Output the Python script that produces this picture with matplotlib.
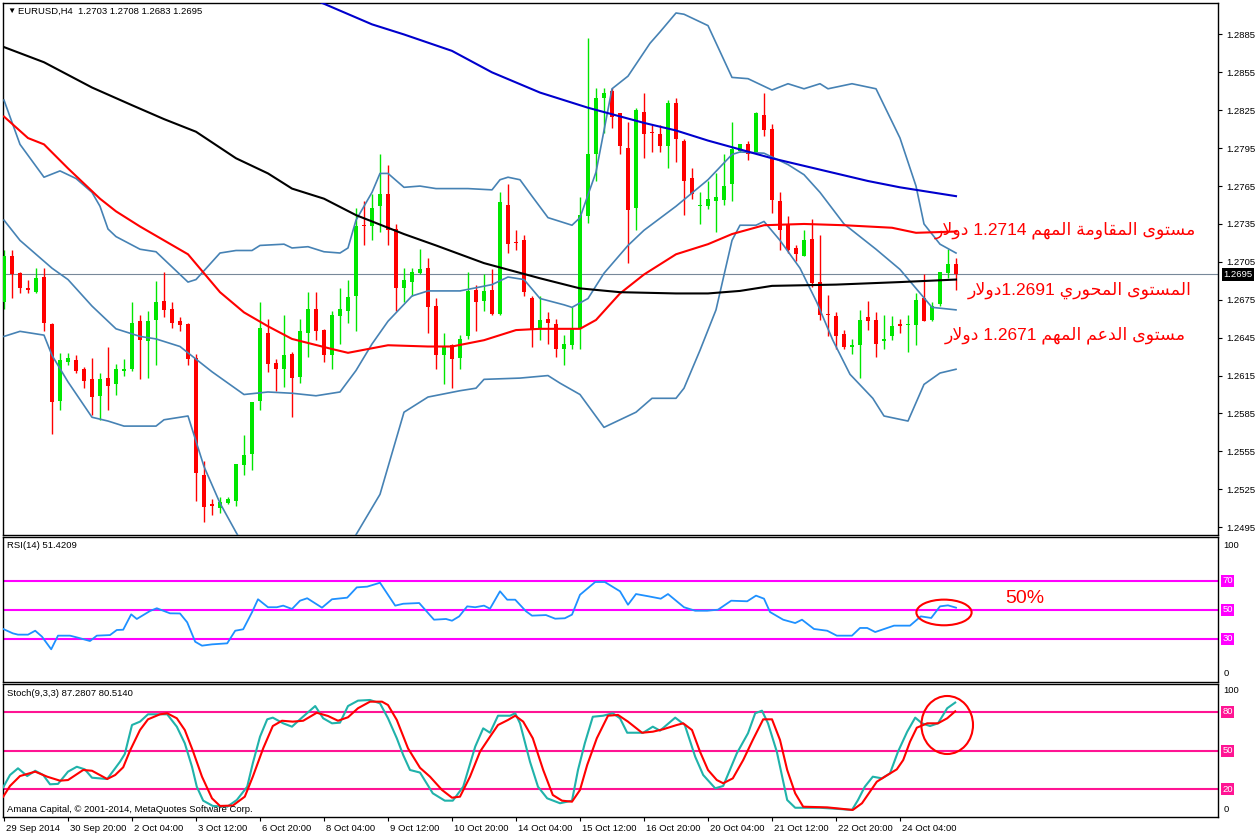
import re
import numpy as np
import matplotlib
matplotlib.use('Agg')
import matplotlib.pyplot as plt
import matplotlib.transforms as mtransforms
from matplotlib.patches import Ellipse

plt.rcParams['font.family'] = ['Liberation Sans', 'DejaVu Sans']

# ---- EURUSD H4 candles (bar 0 .. 119) ----
opens = [1.2673, 1.2710, 1.2696, 1.2684, 1.2681, 1.2693, 1.2656, 1.2595, 1.2626, 1.2627,
         1.2620, 1.2612, 1.2599, 1.2613, 1.2608, 1.2619, 1.2620, 1.2658, 1.2642, 1.2659,
         1.2674, 1.2668, 1.2658, 1.2656, 1.2629, 1.2536, 1.2513, 1.2510, 1.2514, 1.2516,
         1.2544, 1.2553, 1.2595, 1.2649, 1.2625, 1.2620, 1.2632, 1.2614, 1.2649, 1.2668,
         1.2651, 1.2631, 1.2662, 1.2666, 1.2678, 1.2734, 1.2733, 1.2749, 1.2759, 1.2731,
         1.2684, 1.2689, 1.2696, 1.2700, 1.2670, 1.2631, 1.2639, 1.2629, 1.2646, 1.2683,
         1.2674, 1.2683, 1.2664, 1.2750, 1.2721, 1.2722, 1.2676, 1.2652, 1.2660, 1.2656,
         1.2636, 1.2639, 1.2653, 1.2741, 1.2790, 1.2835, 1.2840, 1.2823, 1.2795, 1.2748,
         1.2824, 1.2808, 1.2806, 1.2797, 1.2831, 1.2801, 1.2771, 1.2749, 1.2749, 1.2753,
         1.2754, 1.2767, 1.2793, 1.2798, 1.2792, 1.2821, 1.2810, 1.2753, 1.2734, 1.2716,
         1.2710, 1.2723, 1.2689, 1.2664, 1.2662, 1.2648, 1.2638, 1.2639, 1.2661, 1.2659,
         1.2642, 1.2646, 1.2656, 1.2655, 1.2655, 1.2676, 1.2659, 1.2672, 1.2696, 1.2703]
highs = [1.2714, 1.2714, 1.2697, 1.2691, 1.2700, 1.2700, 1.2657, 1.2633, 1.2633, 1.2631,
         1.2622, 1.2629, 1.2617, 1.2638, 1.2624, 1.2628, 1.2673, 1.2663, 1.2666, 1.2690,
         1.2697, 1.2673, 1.2661, 1.2657, 1.2632, 1.2547, 1.2517, 1.2519, 1.2519, 1.2545,
         1.2568, 1.2594, 1.2673, 1.2660, 1.2628, 1.2663, 1.2634, 1.2660, 1.2681, 1.2681,
         1.2652, 1.2666, 1.2684, 1.2691, 1.2748, 1.2753, 1.2759, 1.2790, 1.2782, 1.2735,
         1.2700, 1.2700, 1.2715, 1.2708, 1.2676, 1.2649, 1.2640, 1.2647, 1.2697, 1.2687,
         1.2695, 1.2699, 1.2760, 1.2767, 1.2730, 1.2726, 1.2678, 1.2678, 1.2665, 1.2660,
         1.2647, 1.2669, 1.2756, 1.2882, 1.2843, 1.2843, 1.2843, 1.2823, 1.2816, 1.2827,
         1.2839, 1.2813, 1.2813, 1.2833, 1.2835, 1.2802, 1.2779, 1.2760, 1.2769, 1.2775,
         1.2790, 1.2816, 1.2798, 1.2801, 1.2824, 1.2839, 1.2814, 1.2760, 1.2741, 1.2718,
         1.2730, 1.2739, 1.2726, 1.2679, 1.2665, 1.2651, 1.2644, 1.2667, 1.2674, 1.2665,
         1.2663, 1.2662, 1.2660, 1.2663, 1.2680, 1.2695, 1.2673, 1.2697, 1.2715, 1.2708]
lows = [1.2668, 1.2676, 1.2680, 1.2680, 1.2680, 1.2650, 1.2569, 1.2588, 1.2623, 1.2617,
        1.2605, 1.2584, 1.2580, 1.2588, 1.2600, 1.2615, 1.2619, 1.2612, 1.2613, 1.2623,
        1.2661, 1.2653, 1.2650, 1.2623, 1.2516, 1.2499, 1.2505, 1.2506, 1.2513, 1.2512,
        1.2536, 1.2540, 1.2588, 1.2618, 1.2603, 1.2606, 1.2582, 1.2609, 1.2630, 1.2643,
        1.2626, 1.2620, 1.2640, 1.2657, 1.2650, 1.2718, 1.2722, 1.2729, 1.2718, 1.2666,
        1.2673, 1.2678, 1.2695, 1.2649, 1.2620, 1.2608, 1.2605, 1.2620, 1.2644, 1.2650,
        1.2666, 1.2663, 1.2663, 1.2712, 1.2714, 1.2678, 1.2638, 1.2643, 1.2640, 1.2630,
        1.2623, 1.2636, 1.2636, 1.2736, 1.2769, 1.2807, 1.2811, 1.2790, 1.2704, 1.2730,
        1.2787, 1.2792, 1.2792, 1.2779, 1.2784, 1.2742, 1.2755, 1.2735, 1.2747, 1.2729,
        1.2750, 1.2753, 1.2792, 1.2786, 1.2791, 1.2805, 1.2744, 1.2714, 1.2712, 1.2706,
        1.2710, 1.2685, 1.2659, 1.2646, 1.2636, 1.2636, 1.2632, 1.2613, 1.2651, 1.2630,
        1.2636, 1.2643, 1.2649, 1.2634, 1.2639, 1.2658, 1.2658, 1.2670, 1.2692, 1.2683]
closes = [1.2710, 1.2695, 1.2684, 1.2683, 1.2692, 1.2657, 1.2594, 1.2627, 1.2629, 1.2619,
          1.2611, 1.2598, 1.2612, 1.2607, 1.2620, 1.2620, 1.2657, 1.2643, 1.2658, 1.2673,
          1.2667, 1.2657, 1.2655, 1.2628, 1.2538, 1.2511, 1.2512, 1.2515, 1.2517, 1.2545,
          1.2552, 1.2594, 1.2653, 1.2624, 1.2620, 1.2631, 1.2613, 1.2650, 1.2668, 1.2650,
          1.2631, 1.2663, 1.2668, 1.2677, 1.2733, 1.2733, 1.2748, 1.2759, 1.2730, 1.2684,
          1.2691, 1.2697, 1.2699, 1.2669, 1.2631, 1.2638, 1.2628, 1.2644, 1.2682, 1.2673,
          1.2682, 1.2664, 1.2752, 1.2719, 1.2720, 1.2681, 1.2651, 1.2659, 1.2657, 1.2636,
          1.2640, 1.2652, 1.2742, 1.2790, 1.2835, 1.2839, 1.2820, 1.2797, 1.2746, 1.2825,
          1.2806, 1.2807, 1.2797, 1.2831, 1.2802, 1.2769, 1.2759, 1.2750, 1.2755, 1.2756,
          1.2765, 1.2794, 1.2798, 1.2790, 1.2823, 1.2809, 1.2754, 1.2730, 1.2714, 1.2711,
          1.2722, 1.2688, 1.2663, 1.2663, 1.2646, 1.2638, 1.2639, 1.2659, 1.2658, 1.2640,
          1.2644, 1.2654, 1.2654, 1.2655, 1.2675, 1.2658, 1.2670, 1.2697, 1.2703, 1.2695]

# ---- moving averages (bar position, price) ----
ma_blue_x = [39, 46, 50, 56, 61, 67, 73, 80, 84, 88, 92, 96, 100, 104, 108, 112, 116, 119]
ma_blue_y = [1.2912, 1.2893, 1.2885, 1.2872, 1.2855, 1.2839, 1.2827, 1.2815, 1.2809, 1.2801,
             1.2794, 1.2787, 1.2781, 1.2775, 1.2769, 1.2764, 1.2760, 1.2757]
ma_black_x = [0, 5, 11, 16, 20, 24, 29, 33, 36, 40, 44, 50, 54, 60, 67, 72, 77, 84, 88,
              92, 96, 104, 112, 119]
ma_black_y = [1.2875, 1.2863, 1.2843, 1.2829, 1.2818, 1.2808, 1.2787, 1.2775, 1.2763, 1.2755,
              1.2742, 1.2727, 1.2718, 1.2704, 1.2692, 1.2684, 1.2681, 1.2680, 1.2680, 1.2682,
              1.2686, 1.2687, 1.2689, 1.2691]
ma_red_x = [0, 3, 5, 8, 12, 14, 17, 20, 23, 25, 27, 30, 33, 36, 41, 43, 48, 53, 56, 60,
            64, 67, 72, 74, 77, 80, 84, 88, 91, 95, 100, 105, 111, 114, 119]
ma_red_y = [1.2820, 1.2803, 1.2798, 1.2779, 1.2755, 1.2745, 1.2733, 1.2722, 1.2711, 1.2696,
            1.2681, 1.2665, 1.2654, 1.2644, 1.2636, 1.2633, 1.2639, 1.2638, 1.2638, 1.2643,
            1.2651, 1.2652, 1.2652, 1.2659, 1.2680, 1.2695, 1.2711, 1.2719, 1.2727, 1.2734,
            1.2735, 1.2734, 1.2732, 1.2728, 1.2729]

# ---- Bollinger bands ----
bb_up_x = [0, 2, 5, 7, 9, 11, 12, 13, 14, 17, 19, 23, 24, 27, 29, 31, 32, 35, 36, 38,
           40, 42, 43, 44, 46, 47, 48, 50, 52, 54, 58, 61, 62, 63, 64.5, 66, 68, 71, 72,
           74, 76, 78, 80.75, 82, 84, 85, 88, 91, 93, 96, 98, 100, 102, 103, 106, 109,
           112, 114, 115, 117, 119]
bb_up_y = [1.2833, 1.2798, 1.2772, 1.2777, 1.2771, 1.2760, 1.2749, 1.2731, 1.2725, 1.2715,
           1.2713, 1.2689, 1.2691, 1.2712, 1.2714, 1.2714, 1.2718, 1.2719, 1.2716, 1.2717,
           1.2713, 1.2712, 1.2716, 1.2738, 1.2760, 1.2775, 1.2775, 1.2764, 1.2765, 1.2763,
           1.2763, 1.2762, 1.2770, 1.2772, 1.2770, 1.2757, 1.2740, 1.2734, 1.2740, 1.2776,
           1.2842, 1.2852, 1.2878, 1.2887, 1.2902, 1.2901, 1.2892, 1.2851, 1.2850, 1.2841,
           1.2846, 1.2842, 1.2846, 1.2842, 1.2846, 1.2842, 1.2803, 1.2765, 1.2735, 1.2719,
           1.2712]
bb_mid_x = [0, 2, 6, 8, 11, 14, 17, 19, 22, 25, 26, 30, 33, 36, 39, 42, 44, 46, 48, 51,
            53, 57, 61, 63, 65, 67, 70, 71, 73, 75, 78, 80, 84, 88, 91, 92, 95, 98, 100,
            102, 105, 109, 112, 114, 116, 119]
bb_mid_y = [1.2738, 1.2722, 1.2700, 1.2691, 1.2670, 1.2652, 1.2646, 1.2644, 1.2638, 1.2623,
            1.2618, 1.2600, 1.2602, 1.2601, 1.2599, 1.2602, 1.2619, 1.2640, 1.2658, 1.2678,
            1.2682, 1.2682, 1.2687, 1.2693, 1.2691, 1.2676, 1.2671, 1.2669, 1.2676, 1.2696,
            1.2718, 1.2730, 1.2749, 1.2770, 1.2790, 1.2792, 1.2791, 1.2782, 1.2774, 1.2760,
            1.2735, 1.2715, 1.2699, 1.2684, 1.2669, 1.2667]
bb_low_x = [0, 2, 5, 6, 8, 11, 13, 15, 19, 20, 23, 25, 27, 29, 31, 36, 40, 44, 47, 50,
            51, 53, 57, 59, 60, 64.5, 68, 69.5, 72, 75, 77, 79, 81, 84, 85, 87, 89, 91,
            92, 94, 95, 97, 99.5, 101.6, 103.6, 105.75, 108.6, 110, 113, 115, 117, 119]
bb_low_y = [1.2646, 1.2650, 1.2647, 1.2631, 1.2610, 1.2582, 1.2579, 1.2575, 1.2575, 1.2580,
            1.2583, 1.2543, 1.2514, 1.2491, 1.2469, 1.2445, 1.2457, 1.2489, 1.2521, 1.2586,
            1.2590, 1.2598, 1.2603, 1.2605, 1.2612, 1.2613, 1.2615, 1.2609, 1.2600, 1.2574,
            1.2580, 1.2586, 1.2597, 1.2597, 1.2605, 1.2635, 1.2667, 1.2722, 1.2734, 1.2734,
            1.2737, 1.2722, 1.2700, 1.2673, 1.2643, 1.2616, 1.2597, 1.2583, 1.2579, 1.2608,
            1.2617, 1.2620]

# ---- RSI(14) ----
rsi_x = [-0.1, 1.1, 1.75, 3, 3.9, 4.75, 5.9, 6.75, 8.25, 9.25, 10.75, 11.6, 13.25, 14.1,
         14.9, 15.9, 16.6, 18.25, 19.1, 20.75, 22, 22.9, 23.9, 24.75, 26, 27.9, 28.9, 29.9,
         31, 31.75, 33, 34.1, 34.9, 36, 37, 37.9, 39.75, 41, 42.9, 44.1, 45.4, 47, 48.9,
         49.9, 51.9, 53.75, 55.25, 56, 56.9, 57.9, 58.9, 60, 60.75, 62, 62.9, 63.9, 65.25,
         66, 67.75, 68.9, 70.1, 71, 72, 73.9, 75.1, 77, 78, 79, 80.6, 82.1, 83, 85, 86.4,
         87.9, 89.25, 90.9, 92.9, 94, 95, 95.75, 97.4, 98.9, 99.75, 101.25, 102.9, 104.1,
         106, 107, 107.9, 108.9, 111.25, 113.25, 114.6, 115.9, 117, 118, 119]
rsi_y = [36.7, 33.7, 32.8, 32.8, 35.5, 31.4, 22.7, 32.1, 32.1, 30.7, 28.4, 32.1, 32.5, 36.0,
         36.2, 46.8, 43.6, 49.1, 51.0, 47.5, 47.4, 41.3, 27.9, 25.2, 26.1, 26.8, 35.5, 36.5,
         48.2, 57.2, 51.7, 51.7, 52.8, 50.5, 56.2, 57.9, 51.4, 57.2, 58.3, 65.4, 65.9, 68.6,
         52.8, 54.1, 54.6, 43.1, 43.6, 42.4, 45.4, 52.3, 51.7, 52.8, 50.7, 62.7, 56.9, 56.9,
         48.9, 45.9, 46.3, 43.8, 44.1, 46.6, 60.3, 69.1, 69.1, 62.7, 53.4, 60.8, 59.2, 57.6,
         60.8, 51.7, 49.3, 49.3, 50.0, 56.2, 55.8, 59.7, 57.6, 48.4, 43.1, 40.8, 43.1, 36.7,
         35.5, 32.1, 32.1, 37.4, 37.4, 34.6, 39.0, 39.0, 45.4, 44.3, 52.3, 53.0, 51.4]
rsi_levels = [70, 50, 30]

# ---- Stochastic(9,3,3) ----
stk_x = [-0.1, 0.75, 1.75, 2.9, 3.9, 4.9, 5.75, 6.75, 8, 9.1, 10.1, 11, 12.9, 14.5, 15.1,
         16, 17, 18, 19.1, 20.4, 21.6, 22.6, 23.5, 24.1, 24.9, 26.1, 27.9, 29.1, 30.4, 31.1,
         32, 32.9, 33.6, 34.9, 36, 37, 38.9, 39.9, 41, 42, 43, 44.25, 45.75, 47, 48, 49.1,
         49.9, 50.75, 52, 53.6, 55.1, 56.1, 57.4, 58.9, 59.9, 60.75, 61.75, 63.25, 63.9,
         64.5, 65.75, 66.75, 67.9, 69.5, 71, 71.75, 72.6, 73.6, 74.9, 76.1, 77, 77.9, 79.9,
         81.1, 82, 83.9, 85.1, 86.4, 87.4, 88.9, 89.9, 91.6, 93, 93.9, 94.75, 95.5, 96.6,
         97.9, 98.9, 102, 104.5, 106, 106.75, 107.6, 108.6, 109.75, 110.75, 111.75, 112.9,
         113.9, 114.75, 115.75, 116.75, 117.9, 118.9]
stk_y = [21.6, 31.1, 36.3, 30.3, 34.4, 31.1, 23.9, 24.2, 33.7, 37.5, 35.5, 29.0, 28.0, 41.4,
         47.4, 69.9, 72.5, 78.2, 78.2, 78.2, 68.6, 55.7, 37.5, 22.0, 11.2, 7.1, 6.5, 11.7,
         22.0, 40.2, 60.8, 74.3, 75.6, 71.2, 68.6, 74.3, 84.6, 75.1, 71.2, 71.7, 84.6, 88.8,
         89.3, 86.7, 75.1, 59.6, 46.6, 35.0, 33.0, 16.9, 11.2, 11.2, 22.0, 53.1, 67.3, 63.9,
         77.1, 77.1, 79.0, 71.2, 41.4, 22.0, 13.0, 9.2, 11.2, 35.0, 55.7, 76.3, 77.1, 79.0,
         75.1, 63.9, 63.9, 68.6, 65.5, 75.6, 69.9, 45.3, 31.1, 20.8, 22.6, 47.9, 63.5, 79.0,
         81.0, 71.2, 49.2, 11.7, 5.7, 5.7, 4.7, 4.0, 11.7, 22.0, 29.8, 28.5, 32.4, 49.2,
         64.7, 75.6, 71.2, 69.1, 71.2, 82.9, 87.3]
std_x = [-0.1, 0.75, 2, 3.9, 5.4, 7, 8, 9.9, 11, 12.9, 13.9, 14.9, 15.75, 17, 18, 19.5,
         20.4, 21.6, 22.6, 23.6, 24.75, 26, 27, 28.6, 30.1, 31.1, 32.4, 33.6, 34.75, 36.1,
         37.4, 39.1, 40.5, 41.75, 43, 44.25, 45.75, 47.25, 48, 49.1, 50.5, 52, 53.25, 54.75,
         56, 57, 58.25, 59.5, 60.75, 61.75, 63, 63.9, 64.9, 66.1, 67.4, 68.6, 69.75, 71, 72,
         72.9, 74.1, 75.5, 76.75, 78, 79.75, 81.1, 82.4, 84.1, 84.9, 86, 87, 88, 89.1, 89.9,
         91.1, 92.4, 93.6, 94.9, 96, 97, 97.9, 98.9, 99.9, 102.9, 104.5, 106.1, 107.25,
         108.25, 109.1, 110.1, 111.6, 112.4, 113.25, 114.1, 115.4, 116.75, 117.9, 118.9]
std_y = [14.3, 22.6, 30.3, 33.7, 29.8, 26.7, 27.2, 35.0, 34.4, 28.0, 31.1, 37.1, 50.0, 66.0,
         74.3, 78.2, 79.0, 75.1, 66.0, 50.0, 29.8, 13.0, 7.1, 7.4, 14.3, 29.8, 51.8, 69.1,
         73.2, 72.5, 73.2, 79.4, 76.9, 73.2, 75.9, 82.9, 88.0, 88.0, 85.4, 73.8, 51.8, 36.7,
         29.8, 19.5, 13.5, 14.3, 29.8, 49.2, 60.8, 69.9, 73.8, 77.1, 72.5, 59.6, 35.0, 15.6,
         11.2, 10.4, 19.5, 38.9, 59.6, 77.1, 77.7, 72.5, 63.9, 64.7, 66.6, 69.9, 71.2, 66.0,
         49.2, 35.0, 27.2, 24.7, 28.5, 42.7, 58.3, 74.3, 74.3, 58.3, 35.0, 16.9, 6.5, 6.0,
         5.0, 4.0, 9.2, 18.2, 25.9, 29.8, 35.5, 42.7, 56.9, 67.8, 71.2, 71.2, 75.1, 80.5]
sto_levels = [80, 50, 20]

# ---- axis labels ----
price_ticks = [1.2885, 1.2855, 1.2825, 1.2795, 1.2765, 1.2735, 1.2705, 1.2675, 1.2645,
               1.2615, 1.2585, 1.2555, 1.2525, 1.2495]
last_price = 1.2695
date_pos = [0, 8, 16, 24, 32, 40, 48, 56, 64, 72, 80, 88, 96, 104, 112]
date_labels = ['29 Sep 2014', '30 Sep 20:00', '2 Oct 04:00', '3 Oct 12:00', '6 Oct 20:00',
               '8 Oct 04:00', '9 Oct 12:00', '10 Oct 20:00', '14 Oct 04:00', '15 Oct 12:00',
               '16 Oct 20:00', '20 Oct 04:00', '21 Oct 12:00', '22 Oct 20:00', '24 Oct 04:00']

# annotations written on the chart
note_resist = 'مستوى المقاومة المهم 1.2714 دولار'
note_pivot = 'المستوى المحوري 1.2691دولار'
note_support = 'مستوى الدعم المهم 1.2671 دولار'

# ---- tiny Arabic shaper (matplotlib has no text shaping) ----
AR_FORMS = {
    'ا': ('\uFE8D', '\uFE8E', None, None),
    'ت': ('\uFE95', '\uFE96', '\uFE97', '\uFE98'),
    'ة': ('\uFE93', '\uFE94', None, None),
    'ح': ('\uFEA1', '\uFEA2', '\uFEA3', '\uFEA4'),
    'د': ('\uFEA9', '\uFEAA', None, None),
    'ر': ('\uFEAD', '\uFEAE', None, None),
    'س': ('\uFEB1', '\uFEB2', '\uFEB3', '\uFEB4'),
    'ع': ('\uFEC9', '\uFECA', '\uFECB', '\uFECC'),
    'ق': ('\uFED5', '\uFED6', '\uFED7', '\uFED8'),
    'ل': ('\uFEDD', '\uFEDE', '\uFEDF', '\uFEE0'),
    'م': ('\uFEE1', '\uFEE2', '\uFEE3', '\uFEE4'),
    'ه': ('\uFEE9', '\uFEEA', '\uFEEB', '\uFEEC'),
    'و': ('\uFEED', '\uFEEE', None, None),
    'ى': ('\uFEEF', '\uFEF0', None, None),
    'ي': ('\uFEF1', '\uFEF2', '\uFEF3', '\uFEF4'),
}


def shape_arabic(text):
    out = []
    k = 0
    while k < len(text):
        c = text[k]
        if c not in AR_FORMS:
            out.append(c)
            k += 1
            continue
        prev = text[k - 1] if k > 0 else None
        jp = prev in AR_FORMS and AR_FORMS[prev][2] is not None
        if c == 'ل' and k + 1 < len(text) and text[k + 1] == 'ا':
            out.append('\uFEFC' if jp else '\uFEFB')
            k += 2
            continue
        nxt = text[k + 1] if k + 1 < len(text) else None
        jn = AR_FORMS[c][2] is not None and nxt in AR_FORMS
        iso, fin, ini, med = AR_FORMS[c]
        out.append(med if (jp and jn) else fin if jp else ini if jn else iso)
        k += 1
    shaped = ''.join(out)
    runs = re.findall(r'[0-9.]+|[^0-9.]+', shaped)
    return ''.join(r if r[0].isdigit() else r[::-1] for r in reversed(runs))


# ---- figure ----
W, H = 1258, 835
fig = plt.figure(figsize=(W / 100, H / 100), dpi=100)
fig.patch.set_facecolor('white')

ax = fig.add_axes([3 / W, 1 - 535 / H, 1215 / W, 532 / H])
ax_rsi = fig.add_axes([3 / W, 1 - 682.2 / H, 1215 / W, 145 / H])
ax_sto = fig.add_axes([3 / W, 1 - 816.7 / H, 1215 / W, 132.7 / H])

xlim = (-0.125, 151.75)
small = 6.8

for a in (ax, ax_rsi, ax_sto):
    a.set_xlim(*xlim)
    a.yaxis.tick_right()
    a.tick_params(axis='y', labelsize=small, length=3, pad=3, width=0.8)
    for s in a.spines.values():
        s.set_linewidth(1.0)
        s.set_color('black')

# main price panel
idx = np.arange(len(opens))
o = np.array(opens)
c = np.array(closes)
up = c >= o
cols = np.where(up, '#00E600', '#FF0000')
ax.axhline(last_price, color='#778899', lw=0.8, zorder=1)
ax.vlines(idx, lows, highs, colors=cols, lw=1, zorder=2)
ax.bar(idx, np.maximum(np.abs(c - o), 0.00009), bottom=np.minimum(o, c), width=0.6,
       color=cols, linewidth=0, zorder=3)

ax.plot(bb_up_x, bb_up_y, color='#4682B4', lw=1.2, zorder=4)
ax.plot(bb_mid_x, bb_mid_y, color='#4682B4', lw=1.2, zorder=4)
ax.plot(bb_low_x, bb_low_y, color='#4682B4', lw=1.2, zorder=4)
ax.plot(ma_red_x, ma_red_y, color='#FF0000', lw=1.5, zorder=5)
ax.plot(ma_black_x, ma_black_y, color='black', lw=1.5, zorder=5)
ax.plot(ma_blue_x, ma_blue_y, color='#0000CD', lw=1.5, zorder=5)

ax.set_ylim(1.24888, 1.29099)
ax.set_yticks(price_ticks)
ax.set_yticklabels([f'{v:.4f}' for v in price_ticks])
ax.set_xticks([])
rt = mtransforms.blended_transform_factory(ax.transAxes, ax.transData)
ax.text(1.0045, last_price, f'{last_price:.4f}', transform=rt, fontsize=small,
        color='white', va='center', ha='left',
        bbox=dict(facecolor='black', edgecolor='none', pad=1.2), zorder=10)

ar_font = ['Liberation Sans', 'DejaVu Sans']
ax.text(149.0, 1.2730, shape_arabic(note_resist), color='red', fontsize=12.5,
        family=ar_font, ha='right', va='center', zorder=8)
ax.text(148.5, 1.26827, shape_arabic(note_pivot), color='red', fontsize=12.5,
        family=ar_font, ha='right', va='center', zorder=8)
ax.text(147.7, 1.26471, shape_arabic(note_support), color='red', fontsize=12.5,
        family=ar_font, ha='right', va='center', zorder=8)

# RSI panel
ax_rsi.set_ylim(0, 100)
for lv in rsi_levels:
    ax_rsi.axhline(lv, color='#FF00FF', lw=1.5, zorder=1)
ax_rsi.plot(rsi_x, rsi_y, color='#1E90FF', lw=1.3, zorder=3)
ax_rsi.set_xticks([])
ax_rsi.set_yticks([])
rt2 = mtransforms.blended_transform_factory(ax_rsi.transAxes, ax_rsi.transData)
ax_rsi.text(1.0045, 94.6, '100', transform=rt2, fontsize=small, va='center')
ax_rsi.text(1.0045, 5.7, '0', transform=rt2, fontsize=small, va='center')
for lv in rsi_levels:
    ax_rsi.text(1.0035, lv, str(lv), transform=rt2, fontsize=small, color='white',
                va='center', bbox=dict(facecolor='#FF00FF', edgecolor='none', pad=1.0))
ax_rsi.add_patch(Ellipse((117.5, 48.1), 6.9, 17.7, fill=False, edgecolor='red', lw=1.5,
                         zorder=6))
ax_rsi.text(125.1, 58.0, '50%', color='red', fontsize=14, va='center', ha='left')

# Stochastic panel
ax_sto.set_ylim(-1.24, 101.7)
for lv in sto_levels:
    ax_sto.axhline(lv, color='#FF1493', lw=1.5, zorder=1)
ax_sto.plot(stk_x, stk_y, color='#20B2AA', lw=1.5, zorder=3)
ax_sto.plot(std_x, std_y, color='#FF0000', lw=1.5, zorder=4)
ax_sto.set_yticks([])
rt3 = mtransforms.blended_transform_factory(ax_sto.transAxes, ax_sto.transData)
ax_sto.text(1.0045, 96.3, '100', transform=rt3, fontsize=small, va='center')
ax_sto.text(1.0045, 4.0, '0', transform=rt3, fontsize=small, va='center')
for lv in sto_levels:
    ax_sto.text(1.0035, lv, str(lv), transform=rt3, fontsize=small, color='white',
                va='center', bbox=dict(facecolor='#FF1493', edgecolor='none', pad=1.0))
ax_sto.add_patch(Ellipse((117.9, 69.9), 6.45, 45.0, fill=False, edgecolor='red', lw=1.5,
                         zorder=6))
ax_sto.set_xticks(date_pos)
ax_sto.set_xticklabels(date_labels)
ax_sto.tick_params(axis='x', labelsize=small, length=3, pad=2, width=0.8)
shift = mtransforms.ScaledTranslation(2 / 100, 0, fig.dpi_scale_trans)
for lab in ax_sto.get_xticklabels():
    lab.set_horizontalalignment('left')
    lab.set_transform(lab.get_transform() + shift)

# header texts
fig.text(7 / W, 1 - 11 / H, '\u25BC', fontsize=6, va='center', ha='left')
fig.text(18 / W, 1 - 11 / H, 'EURUSD,H4  1.2703 1.2708 1.2683 1.2695', fontsize=small,
         va='center', ha='left')
fig.text(7 / W, 1 - 546 / H, 'RSI(14) 51.4209', fontsize=small, va='center', ha='left')
fig.text(7 / W, 1 - 693 / H, 'Stoch(9,3,3) 87.2807 80.5140', fontsize=small,
         va='center', ha='left')
fig.text(7 / W, 1 - 809 / H, 'Amana Capital, \u00A9 2001-2014, MetaQuotes Software Corp.',
         fontsize=small, va='center', ha='left')

fig.savefig('out.png', dpi=100)
